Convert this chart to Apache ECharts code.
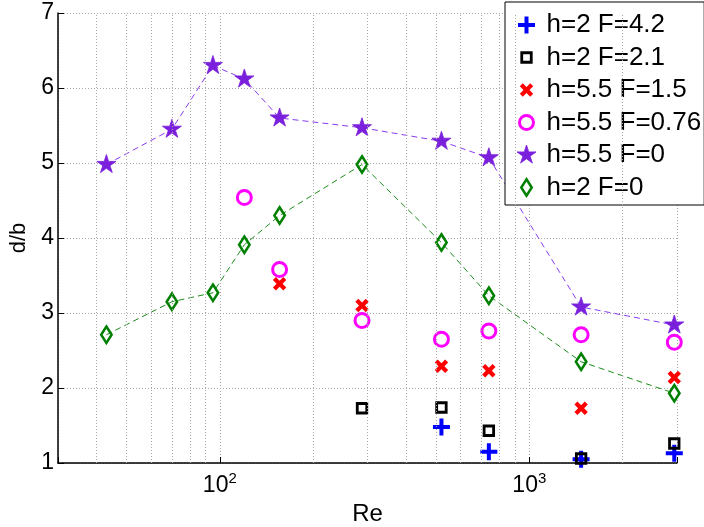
<!DOCTYPE html>
<html><head><meta charset="utf-8">
<script src="https://cdn.jsdelivr.net/npm/echarts@6/dist/echarts.min.js"></script>
<style>html,body{margin:0;padding:0;background:#fff}#c{width:704px;height:527px}</style>
</head><body><div id="c"></div>
<script>
// ---- data ----
const reAll = [43, 70, 95, 120, 156, 288, 520, 740, 1470, 2940];
const starY = [4.98, 5.45, 6.30, 6.12, 5.60, 5.47, 5.29, 5.07, 3.08, 2.84];
const diamondY = [2.71, 3.15, 3.27, 3.91, 4.30, 4.98, 3.94, 3.23, 2.35, 1.93];
const circleRe = [120, 156, 288, 520, 740, 1470, 2940];
const circleY = [4.54, 3.58, 2.90, 2.65, 2.76, 2.71, 2.61];
const crossRe = [156, 288, 520, 740, 1470, 2940];
const crossY = [3.39, 3.10, 2.29, 2.23, 1.73, 2.14];
const squareRe = [288, 520, 740, 1470, 2940];
const squareY = [1.73, 1.74, 1.43, 1.06, 1.26];
const plusRe = [520, 740, 1470, 2940];
const plusY = [1.48, 1.15, 1.05, 1.13];
const seriesNames = ['h=2 F=4.2', 'h=2 F=2.1', 'h=5.5 F=1.5', 'h=5.5 F=0.76', 'h=5.5 F=0', 'h=2 F=0'];
const minorGrid = [40, 50, 60, 70, 80, 90, 200, 300, 400, 500, 600, 700, 800, 900, 2000];
const yTicks = [1, 2, 3, 4, 5, 6, 7];

// ---- symbol shapes (20x20 frame, centred at 10,10) ----
const shapes = {
  plus: 'M8,1.5 H12 V8 H18.5 V12 H12 V18.5 H8 V12 H1.5 V8 H8 Z',
  square: 'M5.25,5.25 H14.75 V14.75 H5.25 Z',
  cross: 'M3.3,6.3 L6.3,3.3 L10,7 L13.7,3.3 L16.7,6.3 L13,10 L16.7,13.7 L13.7,16.7 L10,13 L6.3,16.7 L3.3,13.7 L7,10 Z',
  circle: 'M3,10 A7,7 0 1,0 17,10 A7,7 0 1,0 3,10 Z',
  star: 'M10,0 L12.23,6.93 L19.51,6.91 L13.61,11.17 L15.88,18.09 L10,13.8 L4.12,18.09 L6.39,11.17 L0.49,6.91 L7.77,6.93 Z',
  diamond: 'M10,1.75 L15.25,10 L10,18.25 L4.75,10 Z'
};
const sym = s => 'path://M0,0 M20,20 ' + shapes[s];
const legSym = s => 'path://M0,0 M25,20 ' + shapes[s];

const pairs = (xs, ys) => xs.map((x, i) => [x, ys[i]]);

const styles = [
  {shape: 'plus', item: {color: '#0000ff', borderWidth: 0}},
  {shape: 'square', item: {color: 'rgba(0,0,0,0)', borderColor: '#000000', borderWidth: 2.8}},
  {shape: 'cross', item: {color: '#ff0000', borderWidth: 0}},
  {shape: 'circle', item: {color: 'rgba(0,0,0,0)', borderColor: '#ff00ff', borderWidth: 3}},
  {shape: 'star', item: {color: '#7a1fdc', borderColor: '#7a1fdc', borderWidth: 0.8}},
  {shape: 'diamond', item: {color: 'rgba(0,0,0,0)', borderColor: '#008000', borderWidth: 2.5}}
];
const dataSets = [
  pairs(plusRe, plusY), pairs(squareRe, squareY), pairs(crossRe, crossY),
  pairs(circleRe, circleY), pairs(reAll, starY), pairs(reAll, diamondY)
];

const font = 'Liberation Sans';
const chart = echarts.init(document.getElementById('c'), null, {renderer: 'canvas'});

const series = [
  {
    name: 'gridLines', type: 'line', data: [], silent: true, z: 1,
    markLine: {
      silent: true, symbol: ['none', 'none'], label: {show: false},
      lineStyle: {color: '#a8a8a8', type: [1, 2], width: 1},
      emphasis: {disabled: true},
      data: minorGrid.map(v => ({xAxis: v}))
    }
  },
  {
    name: 'starLine', type: 'line', data: pairs(reAll, starY), symbol: 'none', silent: true, z: 2,
    lineStyle: {color: '#8a3cf0', width: 1, type: [6, 4]}
  },
  {
    name: 'diamondLine', type: 'line', data: pairs(reAll, diamondY), symbol: 'none', silent: true, z: 2,
    lineStyle: {color: '#1a8c1a', width: 1, type: [6, 4]}
  }
];
seriesNames.forEach((n, i) => {
  series.push({
    name: n, type: 'scatter', data: dataSets[i], z: 3,
    symbol: sym(styles[i].shape), symbolSize: 20, symbolKeepAspect: true,
    itemStyle: Object.assign({opacity: 1}, styles[i].item)
  });
});

chart.setOption({
  animation: false,
  backgroundColor: '#ffffff',
  grid: {left: 58, right: 27, top: 13, bottom: 64, outerBoundsMode: 'none', containLabel: false},
  legend: {
    orient: 'vertical', left: 505, top: 2,
    padding: [10, 3, 4.5, 10],
    itemWidth: 25, itemHeight: 20, itemGap: 6.5,
    backgroundColor: '#ffffff', borderColor: '#000000', borderWidth: 1, borderRadius: 0,
    selectedMode: false,
    textStyle: {fontFamily: font, fontSize: 26, lineHeight: 26, color: '#000'},
    data: seriesNames.map((n, i) => ({
      name: n, icon: legSym(styles[i].shape),
      itemStyle: {borderWidth: styles[i].item.borderWidth}
    }))
  },
  xAxis: {
    type: 'log', logBase: 10, min: 30, max: 3000,
    name: 'Re', nameLocation: 'middle', nameGap: 32,
    nameTextStyle: {fontFamily: font, fontSize: 24, color: '#000'},
    axisLine: {show: true, onZero: false, lineStyle: {color: '#000', width: 1.5}},
    axisTick: {show: true, inside: true, length: 6, lineStyle: {color: '#000'}},
    splitLine: {show: true, lineStyle: {color: '#a8a8a8', type: [1, 2], width: 1}},
    axisLabel: {
      margin: 8, color: '#000', fontFamily: font, fontSize: 23,
      showMinLabel: true, showMaxLabel: true,
      formatter: v => {
        const e = Math.log10(v);
        if (Math.abs(e - Math.round(e)) < 1e-6) return '{b|10}{s|' + Math.round(e) + '}';
        return '';
      },
      rich: {
        b: {fontFamily: font, fontSize: 23, color: '#000', verticalAlign: 'bottom'},
        s: {fontFamily: font, fontSize: 15, color: '#000', verticalAlign: 'bottom', padding: [0, 0, 11, 0]}
      }
    }
  },
  yAxis: {
    type: 'value', min: yTicks[0], max: yTicks[yTicks.length - 1], interval: 1,
    name: 'd/b', nameLocation: 'middle', nameGap: 26, nameRotate: 90,
    nameTextStyle: {fontFamily: font, fontSize: 22, color: '#000'},
    axisLine: {show: true, lineStyle: {color: '#000', width: 1.5}},
    axisTick: {show: true, inside: true, length: 6, lineStyle: {color: '#000'}},
    splitLine: {show: true, lineStyle: {color: '#a8a8a8', type: [1, 2], width: 1}},
    axisLabel: {margin: 4, color: '#000', fontFamily: font, fontSize: 23}
  },
  series: series
});
</script>
</body></html>
